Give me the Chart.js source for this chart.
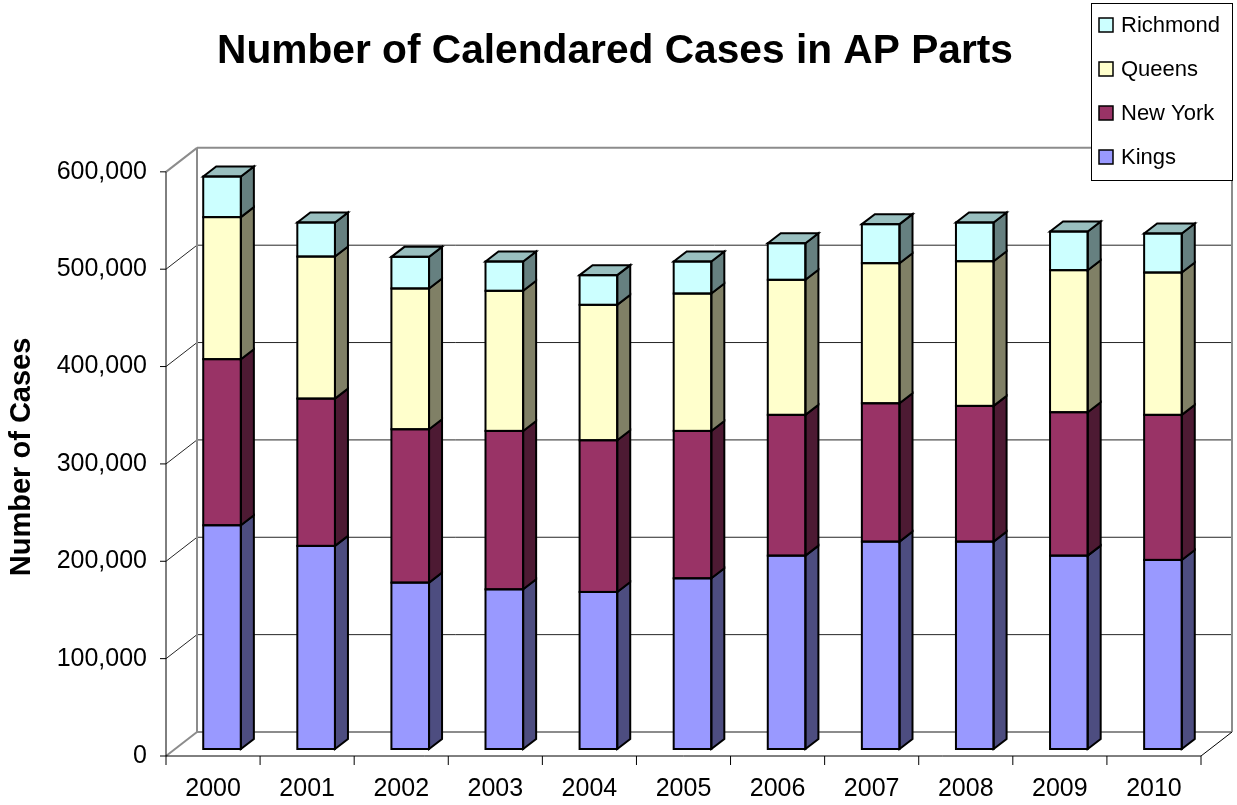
<!DOCTYPE html>
<html>
<head>
<meta charset="utf-8">
<title>Number of Calendared Cases in AP Parts</title>
<script src="https://cdn.jsdelivr.net/npm/chart.js@4.4.1/dist/chart.umd.min.js"></script>
<style>
    html, body { margin: 0; padding: 0; background: #fff; }
    #wrap { width: 1237px; height: 805px; }
</style>
</head>
<body>
<div id="wrap"><canvas id="casesChart" width="1237" height="805"></canvas></div>
<script>
// values
const years = ["2000", "2001", "2002", "2003", "2004", "2005", "2006", "2007", "2008", "2009", "2010"];
const kings = [229800, 208600, 170900, 164000, 161300, 175300, 198600, 213000, 213000, 198600, 194200];
const newYork = [170600, 151300, 157500, 162700, 155800, 151400, 144600, 142100, 139400, 147300, 149000];
const queens = [145900, 145900, 144600, 143900, 139100, 141100, 138700, 143900, 148600, 145900, 146200];
const richmond = [41700, 35000, 32500, 30100, 30500, 32900, 37600, 40100, 39800, 39700, 40100];
const yTicks = [0, 100000, 200000, 300000, 400000, 500000, 600000];

const FONT = "'Liberation Sans', Arial, sans-serif";

// 3d offsets, relative to the plane the bar fronts sit in
const FRONT = { dx: -9, dy: 7 };
const BACK = { dx: 22, dy: -17 };
const BAR = { dx: 13, dy: -10 };

function line(ctx, x1, y1, x2, y2, color, w) {
    ctx.beginPath();
    ctx.strokeStyle = color;
    ctx.lineWidth = w;
    ctx.moveTo(x1, y1);
    ctx.lineTo(x2, y2);
    ctx.stroke();
}

function poly(ctx, pts, fill) {
    ctx.beginPath();
    ctx.moveTo(pts[0][0], pts[0][1]);
    for (let i = 1; i < pts.length; i++) ctx.lineTo(pts[i][0], pts[i][1]);
    ctx.closePath();
    ctx.fillStyle = fill;
    ctx.fill();
    ctx.stroke();
}

const frame3d = {
    id: 'frame3d',
    beforeDatasetsDraw(chart) {
        const { ctx, chartArea: a, scales: { x, y } } = chart;
        const backL = a.left + BACK.dx, backR = a.right + BACK.dx;
        const frontL = a.left + FRONT.dx, frontR = a.right + FRONT.dx;
        ctx.save();
        y.ticks.forEach(t => {
            const py = y.getPixelForValue(t.value);
            const edge = t.value === y.min || t.value === y.max;
            const col = edge ? '#8c8c8c' : '#262626';
            line(ctx, backL, py + BACK.dy, backR, py + BACK.dy, col, edge ? 2 : 1);
            line(ctx, frontL, py + FRONT.dy, backL, py + BACK.dy, col, edge ? 2 : 1);
            line(ctx, frontL - 6, py + FRONT.dy, frontL, py + FRONT.dy, '#000', 1);
        });
        line(ctx, backL, a.top + BACK.dy, backL, a.bottom + BACK.dy, '#8c8c8c', 2);
        line(ctx, backR, a.top + BACK.dy, backR, a.bottom + BACK.dy, '#8c8c8c', 2);
        line(ctx, frontR, a.bottom + FRONT.dy, backR, a.bottom + BACK.dy, '#000', 1);
        line(ctx, frontL, a.top + FRONT.dy, frontL, a.bottom + FRONT.dy, '#000', 1);
        line(ctx, frontL, a.bottom + FRONT.dy, frontR, a.bottom + FRONT.dy, '#000', 1);
        const n = x.ticks.length;
        const step = (a.right - a.left) / n;
        for (let i = 0; i <= n; i++) {
            const bx = a.left + i * step + FRONT.dx;
            line(ctx, bx, a.bottom + FRONT.dy, bx, a.bottom + FRONT.dy + 9, '#000', 1);
        }
        ctx.restore();
    },
    afterDatasetsDraw(chart) {
        const ctx = chart.ctx;
        const sets = chart.data.datasets;
        ctx.save();
        ctx.strokeStyle = '#000';
        ctx.lineWidth = 2;
        ctx.lineJoin = 'miter';
        sets.forEach((ds, i) => {
            const meta = chart.getDatasetMeta(i);
            const isTop = i === sets.length - 1;
            meta.data.forEach(bar => {
                const p = bar.getProps(['x', 'y', 'base', 'width'], true);
                const l = p.x - p.width / 2, r = p.x + p.width / 2;
                const t = Math.min(p.y, p.base), b = Math.max(p.y, p.base);
                poly(ctx, [[r, t], [r + BAR.dx, t + BAR.dy], [r + BAR.dx, b + BAR.dy], [r, b]], ds.sideColor);
                if (isTop) {
                    poly(ctx, [[l, t], [l + BAR.dx, t + BAR.dy], [r + BAR.dx, t + BAR.dy], [r, t]], ds.topColor);
                }
                ctx.strokeRect(l, t, r - l, b - t);
            });
        });
        ctx.restore();
    },
    afterDraw(chart) {
        // boxed legend in the top right corner, top series first
        const ctx = chart.ctx;
        const sets = chart.data.datasets.slice().reverse();
        ctx.save();
        ctx.fillStyle = '#fff';
        ctx.fillRect(1091.5, 3.5, 141, 177);
        ctx.strokeStyle = '#000';
        ctx.lineWidth = 1;
        ctx.strokeRect(1091.5, 3.5, 141, 177);
        ctx.font = '22px ' + FONT;
        ctx.textBaseline = 'middle';
        ctx.textAlign = 'left';
        sets.forEach((ds, k) => {
            const cy = 25 + k * 44;
            ctx.fillStyle = ds.backgroundColor;
            ctx.fillRect(1099, cy - 7, 14, 14);
            ctx.lineWidth = 1.5;
            ctx.strokeRect(1099, cy - 7, 14, 14);
            ctx.fillStyle = '#000';
            ctx.fillText(ds.label, 1121, cy + 1);
        });
        ctx.restore();
    }
};

const ctx = document.getElementById('casesChart').getContext('2d');
const casesChart = new Chart(ctx, {
    type: 'bar',
    data: {
        labels: years,
        datasets: [
            { label: 'Kings', data: kings, backgroundColor: '#9999FF', sideColor: '#4D4D80', topColor: '#7373BF' },
            { label: 'New York', data: newYork, backgroundColor: '#993366', sideColor: '#4D1A33', topColor: '#73264D' },
            { label: 'Queens', data: queens, backgroundColor: '#FFFFCC', sideColor: '#808066', topColor: '#BFBF99' },
            { label: 'Richmond', data: richmond, backgroundColor: '#CCFFFF', sideColor: '#668080', topColor: '#99BFBF' }
        ]
    },
    options: {
        responsive: false,
        animation: false,
        layout: { padding: { left: 20, right: 27, top: 0, bottom: 0 } },
        datasets: {
            bar: { borderWidth: 0, categoryPercentage: 1, barPercentage: 0.4 }
        },
        plugins: {
            legend: { display: false },
            tooltip: { enabled: false },
            title: {
                display: true,
                text: 'Number of Calendared Cases in AP Parts',
                color: '#000',
                font: { family: FONT, size: 40.7, weight: 'bold' },
                padding: { top: 27, bottom: 89 }
            }
        },
        scales: {
            x: {
                stacked: true,
                grid: { display: false, drawTicks: false },
                border: { display: false },
                ticks: { color: '#000', font: { family: FONT, size: 25 }, padding: 25, labelOffset: FRONT.dx },
                afterFit(scale) { scale.height = 56; }
            },
            y: {
                stacked: true,
                min: 0,
                max: 600000,
                grid: { display: false, drawTicks: false },
                border: { display: false },
                afterBuildTicks(scale) { scale.ticks = yTicks.map(v => ({ value: v })); },
                ticks: {
                    color: '#000',
                    font: { family: FONT, size: 25 },
                    padding: 28,
                    labelOffset: FRONT.dy,
                    callback: v => v.toLocaleString('en-US')
                },
                title: {
                    display: true,
                    text: 'Number of Cases',
                    color: '#000',
                    font: { family: FONT, size: 29, weight: 'bold' },
                    padding: { top: -15 }
                },
                afterFit(scale) { scale.width = 155; }
            }
        }
    },
    plugins: [frame3d]
});
</script>
</body>
</html>
